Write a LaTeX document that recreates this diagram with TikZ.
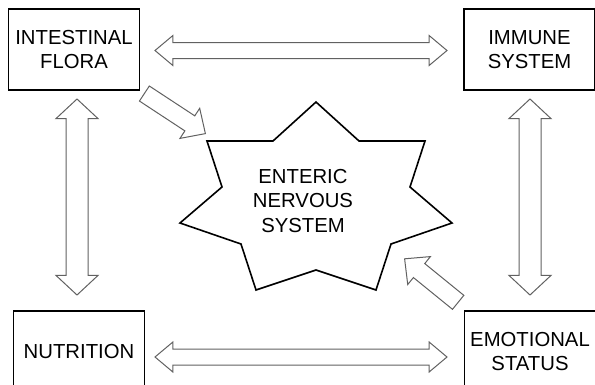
\documentclass[tikz,border=0pt]{standalone}
\usepackage{fontspec}
\setmainfont{Liberation Sans}
\usetikzlibrary{shapes.arrows,positioning,calc}

\begin{document}
\begin{tikzpicture}[x=1pt,y=1pt,
font=\fontsize{20.3}{24.5}\selectfont,
box/.style={draw,line width=1.7pt,minimum width=131,minimum height=81,align=center,inner sep=0},
wide/.style={double arrow,draw=black!62,line width=1pt,inner xsep=0,inner ysep=7.5,double arrow head extend=7,double arrow tip angle=80},
tall/.style={double arrow,draw=black!62,line width=1pt,inner xsep=0,inner ysep=10.5,double arrow head extend=10,double arrow tip angle=94,rotate=90},
push/.style={single arrow,draw=black!62,line width=1pt,inner xsep=0,inner ysep=8.5,single arrow head extend=9,single arrow tip angle=88}]
\useasboundingbox (0,0) rectangle (595,-384);
\clip (0,0) rectangle (595,-384);
% the four boxes
\node[box] (flora) at (74,-49.5) {INTESTINAL\\FLORA};
\node[box] (immune) at (529.5,-49.5) {IMMUNE\\SYSTEM};
\node[box] (nutrition) at (79,-351.5) {NUTRITION};
\node[box] (emotion) at (530,-351.5) {EMOTIONAL\\STATUS};
% the star in the middle
\draw[line width=1.6pt] (316,-102) -- (359,-141) -- (425,-141) -- (410,-187) -- (452,-223)
  -- (391,-244) -- (376,-290) -- (316,-270) -- (256,-290) -- (241,-244) -- (180,-223)
  -- (222,-187) -- (207,-141) -- (273,-141) -- cycle;
\node[align=center,inner sep=0] (ens) at (303,-201) {ENTERIC\\NERVOUS\\SYSTEM};
% block arrows
\node[wide,minimum height=292] (fl-im) at (301,-50.5) {};
\node[wide,minimum height=292] (nu-em) at (301,-357) {};
\node[tall,minimum height=196] (fl-nu) at (77,-197) {};
\node[tall,minimum height=196] (im-em) at (530,-197) {};
\node[push,minimum height=73,rotate=-33.3] (fl-ens) at (171,-111) {};
\node[push,minimum height=69,rotate=140.9] (em-ens) at (435,-283.5) {};
\end{tikzpicture}
\end{document}
